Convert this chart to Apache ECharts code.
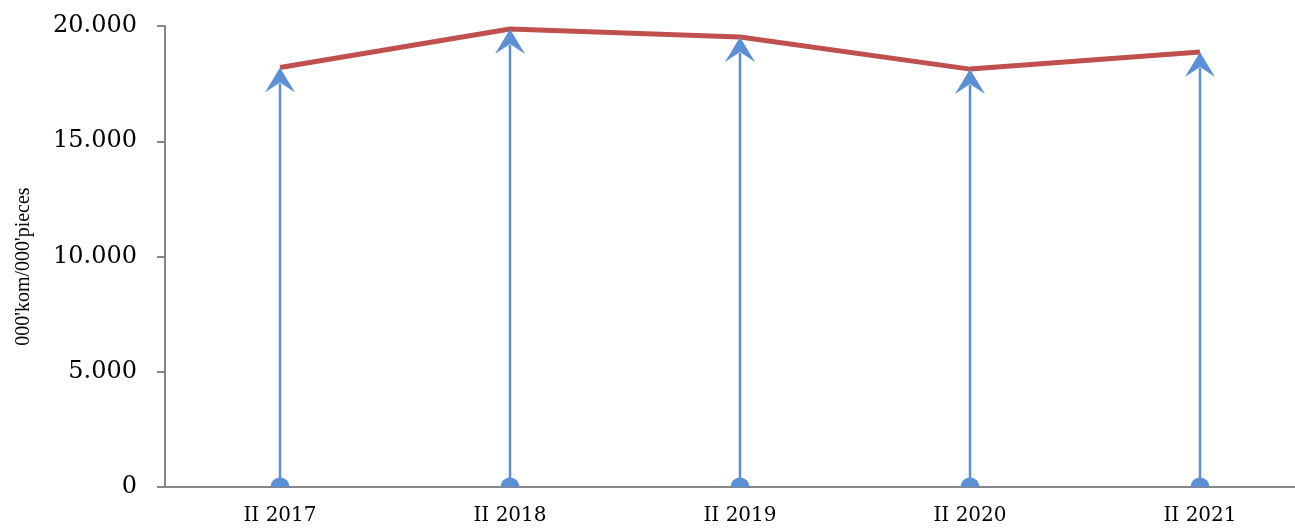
<!DOCTYPE html>
<html>
<head>
<meta charset="utf-8">
<script src="https://cdn.jsdelivr.net/npm/echarts@6/dist/echarts.min.js"></script>
<style>html,body{margin:0;padding:0;background:#fff;}#c{width:1295px;height:530px;}</style>
</head>
<body>
<div id="c"></div>
<script>
var categories = ['II 2017', 'II 2018', 'II 2019', 'II 2020', 'II 2021'];
var values = [18200, 19870, 19520, 18130, 18870];
var yTicks = [0, 5000, 10000, 15000, 20000];
var yName = "000'kom/000'pieces";

var chart = echarts.init(document.getElementById('c'));
function fmt(v) {
  return String(v).replace(/\B(?=(\d{3})+(?!\d))/g, '.');
}
chart.setOption({
  animation: false,
  grid: { left: 165, top: 26, bottom: 43, width: 1150, outerBoundsMode: 'none', containLabel: false },
  xAxis: {
    type: 'category',
    data: categories,
    boundaryGap: true,
    axisLine: { lineStyle: { color: '#868686', width: 2 } },
    axisTick: { show: false },
    axisLabel: { fontFamily: 'DejaVu Serif', fontSize: 20, color: '#000', margin: 19 },
    splitLine: { show: false }
  },
  yAxis: {
    type: 'value',
    min: yTicks[0],
    max: yTicks[yTicks.length - 1],
    interval: 5000,
    name: yName,
    nameLocation: 'middle',
    nameGap: 131,
    nameTextStyle: { fontFamily: 'Liberation Serif', fontSize: 20, color: '#000', padding: [0, 20, 0, 0] },
    axisLine: { show: true, lineStyle: { color: '#868686', width: 2 } },
    axisTick: { show: true, length: 8, lineStyle: { color: '#868686', width: 2 } },
    axisLabel: { formatter: fmt, fontFamily: 'DejaVu Serif', fontSize: 24, color: '#000', margin: 28 },
    splitLine: { show: false }
  },
  series: [
    {
      type: 'custom',
      clip: true,
      data: values.map(function (v, i) { return [i, v]; }),
      renderItem: function (params, api) {
        var top = api.coord([api.value(0), api.value(1)]);
        var bot = api.coord([api.value(0), 0]);
        var x = top[0];
        return {
          type: 'group',
          children: [
            { type: 'line', shape: { x1: x, y1: bot[1], x2: x, y2: top[1] + 16 },
              style: { stroke: '#5B8FD6', lineWidth: 2.5 } },
            { type: 'circle', shape: { cx: x, cy: bot[1], r: 9.5 },
              style: { fill: '#5B8FD6' } },
            { type: 'polygon', shape: { points: [[x, top[1]], [x + 15, top[1] + 25], [x, top[1] + 15], [x - 15, top[1] + 25]] },
              style: { fill: '#5B8FD6' } }
          ]
        };
      },
      z: 3
    },
    {
      type: 'line',
      data: values,
      symbol: 'none',
      lineStyle: { color: '#C0504D', width: 5 },
      z: 2
    }
  ]
});
</script>
</body>
</html>
